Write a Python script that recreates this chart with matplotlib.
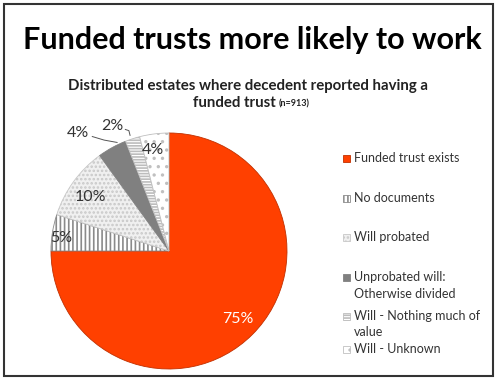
import numpy as np
import matplotlib.pyplot as plt
from matplotlib.patches import Rectangle

plt.rcParams['font.family'] = ['Lato', 'DejaVu Sans']
plt.rcParams['hatch.linewidth'] = 1.2

categories = ['Funded trust exists', 'No documents', 'Will probated',
              'Unprobated will:\nOtherwise divided', 'Will - Nothing much of\nvalue',
              'Will - Unknown']
shares = [75, 5, 10, 4, 2, 4]
pct_labels = ['75%', '5%', '10%', '4%', '2%', '4%']

faces = ['#ff4000', 'white', '#f0f0f0', '#808080', 'white', 'white']
hatches = [None, '||||', '....', None, '------', '..']
hatch_cols = ['#c03000', '#8a8a8a', '#c8c8c8', '#808080', '#bdbdbd', '#c0c0c0']

fig = plt.figure(figsize=(4.97, 3.78), dpi=100)
W, H = 497, 378

# border frame
fig.add_artist(Rectangle((0.008, 0.005), 0.984, 0.985, transform=fig.transFigure,
                         fill=False, edgecolor='#333333', linewidth=1.5))

fig.text(0.508, 0.893, 'Funded trusts more likely to work', ha='center', va='center',
         fontsize=22, fontweight='bold', color='black')
fig.text(0.50, 0.772, 'Distributed estates where decedent reported having a',
         ha='center', va='center', fontsize=10.8, fontweight='bold', color='#222222')
fig.text(0.555, 0.728, 'funded trust', ha='right', va='center', fontsize=10.8,
         fontweight='bold', color='#222222')
fig.text(0.560, 0.726, '(n=913)', ha='left', va='center', fontsize=6.5,
         fontweight='bold', color='#222222')

cx, cy, r = 169, 251, 118
ax = fig.add_axes([(cx - r) / W, (H - cy - r) / H, 2 * r / W, 2 * r / H])
wedges, _ = ax.pie(shares, startangle=90, counterclock=False, radius=1,
                   colors=faces, wedgeprops=dict(linewidth=0.6))
for w, h, hc in zip(wedges, hatches, hatch_cols):
    w.set_edgecolor(hc)
    if h:
        w.set_hatch(h)
ax.set_xlim(-1, 1)
ax.set_ylim(-1, 1)
ax.set_aspect('equal')
ax.axis('off')

# label placement (radius-units offsets)
lab_pos = [(0.58, -0.58), (-0.91, 0.11), (-0.67, 0.46), (-0.77, 1.0),
           (-0.48, 1.06), (-0.14, 0.86)]
lab_cols = ['white', '#333333', '#333333', '#333333', '#333333', '#333333']
for (x, y), t, c in zip(lab_pos, pct_labels, lab_cols):
    ax.text(x, y, t, ha='center', va='center', fontsize=11.5, color=c, clip_on=False)
# leader lines
ax.plot([-0.65, -0.55, -0.44], [0.97, 0.94, 0.92], color='#555555', lw=0.7, clip_on=False)
ax.plot([-0.37, -0.34, -0.33], [1.03, 1.02, 0.98], color='#555555', lw=0.7, clip_on=False)

# legend
leg_y = [158, 198, 237, 277, 316, 349]
for i, (lab, y) in enumerate(zip(categories, leg_y)):
    p = Rectangle((343 / W, 1 - (y + 4) / H), 7 / W, 7 / H, transform=fig.transFigure,
                  facecolor=faces[i], edgecolor=hatch_cols[i], hatch=hatches[i], lw=0.6)
    fig.add_artist(p)
    fig.text(354 / W, 1 - (y - 6) / H if '\n' in lab else 1 - y / H, lab, ha='left',
             va='top' if '\n' in lab else 'center',
             fontsize=9, color='#333333', linespacing=1.45)

fig.savefig('out.png', dpi=100)
